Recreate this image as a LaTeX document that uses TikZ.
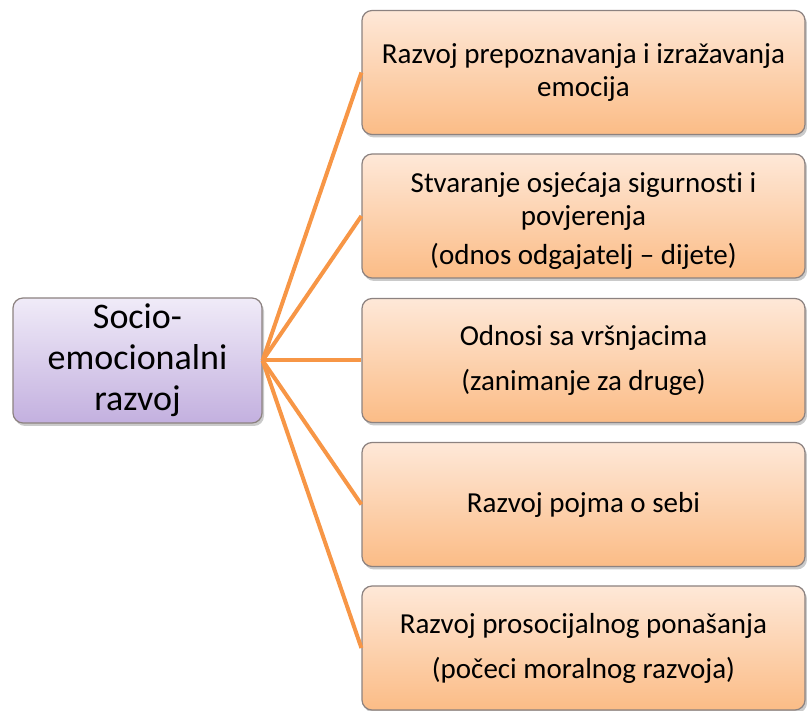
\documentclass[tikz,border=0pt]{standalone}
\usepackage{fontspec}
\setmainfont{Carlito}[Ligatures=NoCommon]
\usetikzlibrary{shadows}
\definecolor{orline}{HTML}{F79646}
\definecolor{ortop}{HTML}{FEE8D8}
\definecolor{orbot}{HTML}{FBBC86}
\definecolor{putop}{HTML}{F0EBF8}
\definecolor{pubot}{HTML}{C3B0DF}
\definecolor{boxborder}{HTML}{8C8280}
\tikzset{
  leafbox/.style={draw=boxborder, line width=1.2pt, rounded corners=10pt,
    top color=ortop, bottom color=orbot, minimum width=443pt, minimum height=124pt,
    align=center, inner sep=0pt, font=\fontsize{29}{33}\selectfont,
    drop shadow={shadow xshift=2pt, shadow yshift=-3pt, opacity=0.35, fill=black!60}},
  rootbox/.style={draw=boxborder, line width=1.2pt, rounded corners=10pt,
    top color=putop, bottom color=pubot, minimum width=249pt, minimum height=125pt,
    align=center, inner sep=0pt, font=\fontsize{36}{41}\selectfont,
    drop shadow={shadow xshift=2pt, shadow yshift=-3pt, opacity=0.35, fill=black!60}},
  link/.style={draw=orline, line width=4pt},
  txt/.style={align=center, inner sep=0pt, font=\fontsize{29}{33}\selectfont}
}
\begin{document}
\begin{tikzpicture}[x=1pt,y=1pt]
\useasboundingbox (0,0) rectangle (807,-711);
\node[rootbox] (root) at (137.5,-360.5) {Socio-\\emocionalni\\razvoj};
\node[leafbox] (b1) at (583.5,-72.5) {Razvoj prepoznavanja i izražavanja\\emocija};
\node[leafbox] (b2) at (583.5,-216) {};
\node[txt] (t2) at (583.5,-221) {Stvaranje osjećaja sigurnosti i\\povjerenja\\[6pt](odnos odgajatelj – dijete)};
\node[leafbox] (b3) at (583.5,-360.5) {Odnosi sa vršnjacima\\[12pt](zanimanje za druge)};
\node[leafbox] (b4) at (583.5,-504.5) {Razvoj pojma o sebi};
\node[leafbox] (b5) at (583.5,-648) {Razvoj prosocijalnog ponašanja\\[12pt](počeci moralnog razvoja)};
\foreach \b in {b1,b2,b3,b4,b5}{
  \draw[link] (root.east) -- (\b.west);
}
\end{tikzpicture}
\end{document}
